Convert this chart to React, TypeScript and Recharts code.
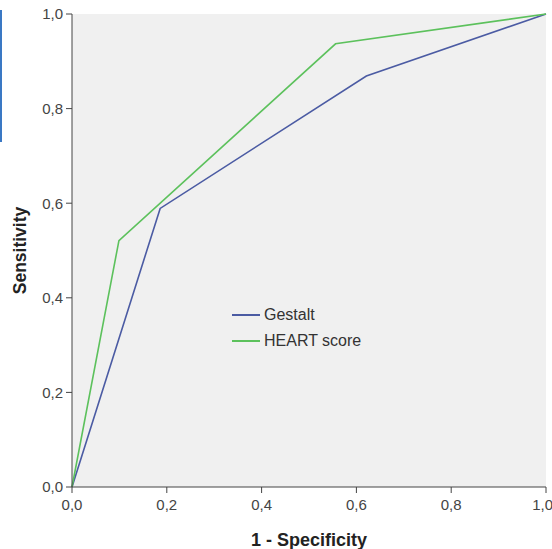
import React from 'react';
import { LineChart, Line, XAxis, YAxis, CartesianGrid, Label } from 'recharts';

const gestaltFpr = [0, 0.186, 0.621, 1];
const gestaltTpr = [0, 0.589, 0.869, 1];
const heartFpr = [0, 0.099, 0.556, 1];
const heartTpr = [0, 0.521, 0.937, 1];
const ticks = [0, 0.2, 0.4, 0.6, 0.8, 1];

const gestalt = gestaltFpr.map((x, i) => ({ x, y: gestaltTpr[i] }));
const heart = heartFpr.map((x, i) => ({ x, y: heartTpr[i] }));

const fmt = (v: number) => v.toFixed(1).replace('.', ',');

const series = [
  { name: 'Gestalt', color: '#4b5ba3' },
  { name: 'HEART score', color: '#5cc15c' },
];

const font = 'Liberation Sans, Arial, sans-serif';

const LegendBox = () => (
  <div style={{ position: 'absolute', left: 232, top: 302, fontFamily: font, fontSize: 16, color: '#333' }}>
    {series.map((s) => (
      <div key={s.name} style={{ display: 'flex', alignItems: 'center', height: 26 }}>
        <span style={{ display: 'inline-block', width: 28, height: 2, background: s.color, marginRight: 4 }} />
        <span>{s.name}</span>
      </div>
    ))}
  </div>
);

const App: React.FC = () => {
  return (
    <div style={{ position: 'absolute', left: 0, top: 0, width: 552, height: 549, background: '#fff' }}>
      <div style={{ position: 'absolute', left: 0, top: 10, width: 2, height: 132, background: '#3a78c4' }} />
      <LineChart width={552} height={549} margin={{ top: 14, right: 6, bottom: 0, left: 28 }}>
        <CartesianGrid horizontal={false} vertical={false} fill="#f0f0f0" />
        <XAxis
          dataKey="x"
          type="number"
          domain={[0, 1]}
          ticks={ticks}
          tickFormatter={fmt}
          stroke="#444"
          tickSize={6}
          tickMargin={6}
          height={62}
          tick={{ fill: '#444', fontSize: 15, fontFamily: font }}
          allowDuplicatedCategory={false}
        >
          <Label value="1 - Specificity" position="insideBottom" offset={3} style={{ fontWeight: 'bold', fontSize: 18, fill: '#222', fontFamily: font }} />
        </XAxis>
        <XAxis xAxisId="top" orientation="top" type="number" domain={[0, 1]} tick={false} tickLine={false} stroke="#444" height={0} />
        <YAxis
          dataKey="y"
          type="number"
          domain={[0, 1]}
          ticks={ticks}
          tickFormatter={fmt}
          stroke="#444"
          tickSize={6}
          tickMargin={3}
          width={44}
          tick={{ fill: '#444', fontSize: 15, fontFamily: font }}
        >
          <Label value="Sensitivity" angle={-90} position="insideLeft" offset={-8} style={{ textAnchor: 'middle', fontWeight: 'bold', fontSize: 17.5, fill: '#222', fontFamily: font }} />
        </YAxis>
        <YAxis yAxisId="right" orientation="right" type="number" domain={[0, 1]} tick={false} tickLine={false} stroke="#444" width={0} />
        <Line data={gestalt} dataKey="y" name="Gestalt" stroke={series[0].color} strokeWidth={1.6} dot={false} isAnimationActive={false} />
        <Line data={heart} dataKey="y" name="HEART score" stroke={series[1].color} strokeWidth={1.6} dot={false} isAnimationActive={false} />
      </LineChart>
      <LegendBox />
    </div>
  );
};

export default App;
